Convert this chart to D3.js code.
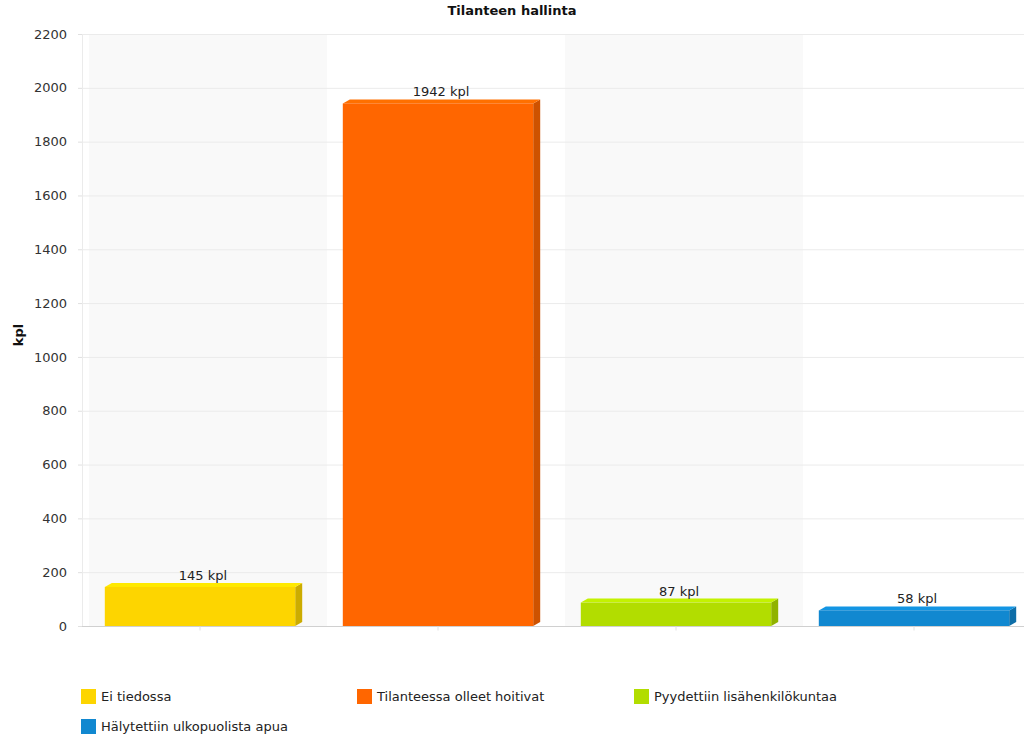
<!DOCTYPE html>
<html><head><meta charset="utf-8">
<script src="https://cdn.jsdelivr.net/npm/d3@7/dist/d3.min.js"></script>
<style>body{margin:0;background:#fff}svg{display:block;font-family:"DejaVu Sans",Verdana,sans-serif}</style>
</head><body><svg id="c" width="1024" height="739"></svg>
<script>
const categories = ["Ei tiedossa","Tilanteessa olleet hoitivat","Pyydettiin lisähenkilökuntaa","Hälytettiin ulkopuolista apua"];
const values = [145,1942,87,58];
const colors = ["#fdd500","#ff6600","#b2dd00","#1188d0"];
const yTicks = [0,200,400,600,800,1000,1200,1400,1600,1800,2000,2200];
const title = "Tilanteen hallinta";
const yTitle = "kpl";
const unit = " kpl";

const svg = d3.select("#c");
const W = 1024;
const y = d3.scaleLinear().domain([0,2200]).range([626,34]);
const x = d3.scaleBand().domain(categories).range([81,1033]).paddingInner(0.2).paddingOuter(0.1);
const band = d3.scaleBand().domain(categories).range([81,1033]);
const dx = 7, dy = 4;

// back-wall alternating bands
svg.append("g").selectAll("rect").data(categories.filter((d,i)=>i%2===0)).join("rect")
  .attr("x", d=>band(d)+dx+1).attr("width", band.bandwidth())
  .attr("y", y(2200)).attr("height", y(0)-y(2200)).attr("fill","#f9f9f9");

// gridlines
svg.append("g").selectAll("line").data(yTicks).join("line")
  .attr("x1",82).attr("x2",W).attr("y1",d=>y(d)+0.5).attr("y2",d=>y(d)+0.5)
  .attr("stroke","#ebebeb").attr("stroke-width",1);

// y axis
const yAxis = d3.axisLeft(y).tickValues(yTicks).tickFormat(d3.format("d")).tickSize(4).tickPadding(10);
const ga = svg.append("g").attr("transform","translate(82,0)").call(yAxis);
ga.select(".domain").attr("stroke","#ebebeb");
ga.selectAll(".tick line").attr("stroke","#e0e0e0");
ga.selectAll(".tick text").attr("font-size",13).attr("fill","#333").attr("font-family","DejaVu Sans, Verdana, sans-serif").attr("dx",-1);

// x axis
const xAxis = d3.axisBottom(band).tickSize(4).tickFormat("");
const gx = svg.append("g").attr("transform","translate(0,626.5)").call(xAxis);
gx.select(".domain").attr("stroke","#d0d0d0").attr("d","M82,0H1024");
gx.selectAll(".tick line").attr("stroke","#e0e0e0");

// bars (3D)
const bars = svg.append("g").selectAll("g").data(values).join("g");
bars.append("path").attr("fill",(d,i)=>d3.color(colors[i]).darker(0.6))
  .attr("d",(d,i)=>{const x1=x(categories[i])+x.bandwidth(), t=y(d), b=y(0);
    return `M${x1},${t}L${x1+dx},${t-dy}L${x1+dx},${b-dy}L${x1},${b}Z`;});
bars.append("path").attr("fill",(d,i)=>d3.color(colors[i]).brighter(0.25))
  .attr("d",(d,i)=>{const x0=x(categories[i]), x1=x0+x.bandwidth(), t=y(d);
    return `M${x0},${t}L${x0+dx},${t-dy}L${x1+dx},${t-dy}L${x1},${t}Z`;});
bars.append("rect").attr("fill",(d,i)=>colors[i])
  .attr("x",(d,i)=>x(categories[i])).attr("width",x.bandwidth())
  .attr("y",d=>y(d)).attr("height",d=>y(0)-y(d));
bars.append("text").attr("x",(d,i)=>x(categories[i])+x.bandwidth()/2+3).attr("y",d=>y(d)-7)
  .attr("text-anchor","middle").attr("font-size",13).attr("fill","#222").text(d=>d+unit);

// title
svg.append("text").attr("x",512).attr("y",15).attr("text-anchor","middle")
  .attr("font-size",13).attr("font-weight","bold").attr("fill","#111").text(title);
svg.append("text").attr("transform","translate(23,335) rotate(-90)").attr("text-anchor","middle")
  .attr("font-size",13).attr("font-weight","bold").attr("fill","#111").text(yTitle);

// legend
const lx = [81,357,634];
const leg = svg.append("g").selectAll("g").data(categories).join("g")
  .attr("transform",(d,i)=>`translate(${lx[i%3]},${689+Math.floor(i/3)*30})`);
leg.append("rect").attr("width",15).attr("height",15).attr("fill",(d,i)=>colors[i]);
leg.append("text").attr("x",20).attr("y",12).attr("font-size",13).attr("fill","#222").text(d=>d);
</script></body></html>
